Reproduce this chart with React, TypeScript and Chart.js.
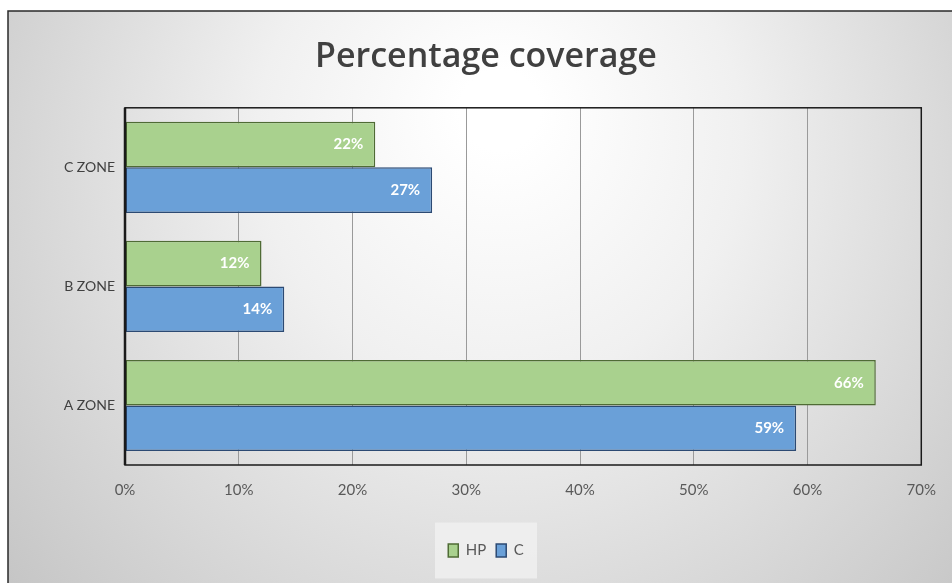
import React, { useEffect, useRef } from "react";
import { Chart, registerables } from "chart.js";

Chart.register(...registerables);

const categories = ["C ZONE", "B ZONE", "A ZONE"];
const hpValues = [22, 12, 66];
const cValues = [27, 14, 59];
const xTicks = [0, 10, 20, 30, 40, 50, 60, 70];
const titleText = "Percentage coverage";

const FONT = "Lato, 'Open Sans', sans-serif";

const bgPlugin = {
  id: "bgPlugin",
  beforeDraw(chart: any) {
    const { ctx, width, height } = chart;
    ctx.save();
    ctx.fillStyle = "#ffffff";
    ctx.fillRect(0, 0, width, height);
    const g = ctx.createRadialGradient(500, 110, 40, 500, 200, 620);
    g.addColorStop(0, "#ffffff");
    g.addColorStop(0.35, "#f0f0f0");
    g.addColorStop(1, "#c6c6c6");
    ctx.fillStyle = g;
    ctx.fillRect(8, 11, width, height);
    ctx.strokeStyle = "#2a2a2a";
    ctx.lineWidth = 1.5;
    ctx.beginPath();
    ctx.moveTo(8, height + 5);
    ctx.lineTo(8, 11);
    ctx.lineTo(width + 5, 11);
    ctx.stroke();
    const lg = chart.legend;
    if (lg) {
      ctx.fillStyle = "rgba(240,240,240,0.85)";
      const lw = 102, lh = 56;
      const cx = (lg.left + lg.right) / 2;
      const cy = lg.top + lg.height / 2;
      ctx.fillRect(cx - lw / 2, cy - lh / 2, lw, lh);
    }
    ctx.restore();
  },
  afterDraw(chart: any) {
    const { ctx, chartArea } = chart;
    ctx.save();
    ctx.strokeStyle = "#1a1a1a";
    ctx.lineWidth = 1.5;
    ctx.strokeRect(chartArea.left, chartArea.top, chartArea.right - chartArea.left, chartArea.bottom - chartArea.top);
    ctx.lineWidth = 2.5;
    ctx.beginPath();
    ctx.moveTo(chartArea.left, chartArea.top);
    ctx.lineTo(chartArea.left, chartArea.bottom);
    ctx.stroke();
    ctx.restore();
  },
};

const labelPlugin = {
  id: "labelPlugin",
  afterDatasetsDraw(chart: any) {
    const { ctx } = chart;
    ctx.save();
    ctx.font = `bold 15px ${FONT}`;
    ctx.fillStyle = "#ffffff";
    ctx.textAlign = "right";
    ctx.textBaseline = "middle";
    chart.data.datasets.forEach((ds: any, i: number) => {
      const meta = chart.getDatasetMeta(i);
      meta.data.forEach((bar: any, j: number) => {
        ctx.fillText(ds.data[j] + "%", bar.x - 12, bar.y);
      });
    });
    ctx.restore();
  },
};

export default function App() {
  const ref = useRef<HTMLCanvasElement>(null);
  useEffect(() => {
    if (!ref.current) return;
    const chart = new Chart(ref.current, {
      type: "bar",
      data: {
        labels: categories,
        datasets: [
          {
            label: "HP",
            data: hpValues,
            backgroundColor: "#a9d18e",
            borderColor: "#4f6b35",
            borderWidth: 1.5,
            borderSkipped: false,
            categoryPercentage: 0.765,
            barPercentage: 1,
          },
          {
            label: "C",
            data: cValues,
            backgroundColor: "#6aa0d8",
            borderColor: "#2c4a73",
            borderWidth: 1.5,
            borderSkipped: false,
            categoryPercentage: 0.765,
            barPercentage: 1,
          },
        ],
      },
      plugins: [bgPlugin, labelPlugin],
      options: {
        indexAxis: "y",
        animation: false,
        responsive: false,
        maintainAspectRatio: false,
        layout: { padding: { left: 39, right: 19, top: 0, bottom: 15 } },
        scales: {
          x: {
            min: 0,
            max: 70,
            afterBuildTicks(scale: any) {
              scale.ticks = xTicks.map((v) => ({ value: v }));
            },
            afterFit(scale: any) {
              scale.height = 68;
            },
            grid: { color: "#9a9a9a", lineWidth: 1, drawTicks: false },
            border: { display: false },
            ticks: {
              padding: 16,
              color: "#595959",
              font: { family: FONT, size: 15 },
              callback: (v: any) => v + "%",
            },
          },
          y: {
            afterFit(scale: any) {
              scale.width = 86;
            },
            grid: { display: false, drawTicks: false },
            border: { display: false },
            ticks: {
              padding: 10,
              color: "#404040",
              font: { family: FONT, size: 14 },
            },
          },
        },
        plugins: {
          title: {
            display: true,
            text: titleText,
            color: "#404040",
            font: { family: "'Open Sans', sans-serif", size: 34, weight: "600" },
            padding: { top: 37, bottom: 30 },
          },
          legend: {
            position: "bottom",
            labels: {
              color: "#595959",
              font: { family: FONT, size: 15 },
              boxWidth: 10,
              boxHeight: 13,
              padding: 10,
            },
          },
          tooltip: { enabled: false },
        },
      } as any,
    });
    return () => chart.destroy();
  }, []);
  return (
    <div style={{ position: "fixed", left: 0, top: 0, width: 952, height: 583 }}>
      <canvas ref={ref} width={952} height={583} style={{ width: 952, height: 583 }} />
    </div>
  );
}
